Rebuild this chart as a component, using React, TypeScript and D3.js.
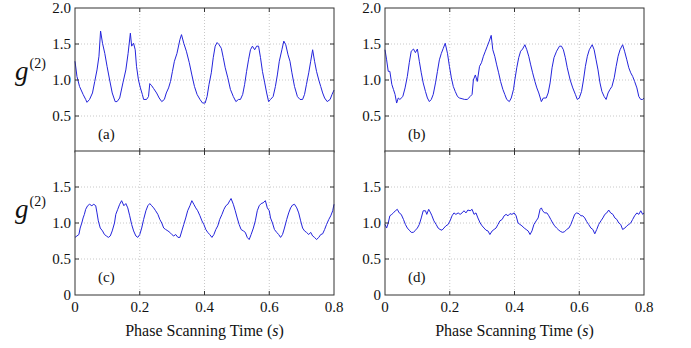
import { useRef, useEffect } from "react";
import * as d3 from "d3";

type Pt = [number, number];

// g2 traces: [time (s), g(2)]
const traceA: Pt[] = [
  [0, 1.26], [0.006, 1.05], [0.014, 0.91], [0.025, 0.8], [0.033, 0.73], [0.037, 0.69], [0.045, 0.73], [0.054, 0.82],
  [0.061, 0.98], [0.068, 1.14], [0.074, 1.33], [0.079, 1.68], [0.085, 1.51], [0.092, 1.37], [0.099, 1.19], [0.107, 1.0],
  [0.115, 0.82], [0.124, 0.7], [0.13, 0.7], [0.138, 0.75], [0.148, 0.96], [0.157, 1.14], [0.164, 1.37], [0.171, 1.65],
  [0.175, 1.47], [0.181, 1.51], [0.186, 1.42], [0.19, 1.19], [0.196, 1.0], [0.202, 0.89], [0.208, 0.8], [0.212, 0.73],
  [0.221, 0.73], [0.227, 0.77], [0.231, 0.95], [0.237, 0.92], [0.243, 0.88], [0.252, 0.82], [0.26, 0.75], [0.268, 0.7],
  [0.276, 0.73], [0.282, 0.82], [0.289, 0.89], [0.295, 0.98], [0.301, 1.12], [0.307, 1.26], [0.315, 1.37], [0.324, 1.56],
  [0.329, 1.63], [0.336, 1.51], [0.344, 1.4], [0.353, 1.24], [0.361, 1.07], [0.369, 0.91], [0.377, 0.8], [0.386, 0.73],
  [0.394, 0.68], [0.402, 0.68], [0.408, 0.77], [0.414, 0.94], [0.421, 1.1], [0.427, 1.31], [0.433, 1.47], [0.439, 1.52],
  [0.445, 1.49], [0.452, 1.44], [0.458, 1.31], [0.464, 1.17], [0.472, 1.03], [0.48, 0.87], [0.489, 0.77], [0.497, 0.7],
  [0.505, 0.73], [0.511, 0.73], [0.518, 0.8], [0.524, 0.94], [0.53, 1.12], [0.536, 1.28], [0.542, 1.42], [0.548, 1.47],
  [0.555, 1.42], [0.561, 1.47], [0.567, 1.47], [0.573, 1.31], [0.579, 1.12], [0.586, 0.96], [0.592, 0.82], [0.598, 0.7],
  [0.604, 0.73], [0.612, 0.77], [0.619, 0.91], [0.625, 1.07], [0.631, 1.26], [0.639, 1.42], [0.645, 1.54], [0.651, 1.49],
  [0.658, 1.35], [0.664, 1.26], [0.67, 1.1], [0.678, 0.91], [0.687, 0.77], [0.695, 0.73], [0.703, 0.73], [0.709, 0.8],
  [0.715, 0.94], [0.722, 1.1], [0.728, 1.26], [0.734, 1.42], [0.74, 1.26], [0.746, 1.12], [0.753, 1.0], [0.759, 0.91],
  [0.765, 0.82], [0.771, 0.75], [0.779, 0.7], [0.788, 0.73], [0.794, 0.8], [0.8, 0.86],
];

const traceB: Pt[] = [
  [0, 1.42], [0.005, 1.28], [0.01, 1.12], [0.015, 1.12], [0.021, 0.94], [0.026, 0.87], [0.031, 0.8], [0.036, 0.68],
  [0.041, 0.75], [0.046, 0.73], [0.055, 0.77], [0.062, 0.89], [0.069, 1.05], [0.075, 1.24], [0.081, 1.4], [0.088, 1.43],
  [0.094, 1.38], [0.1, 1.43], [0.106, 1.26], [0.112, 1.1], [0.118, 0.96], [0.125, 0.84], [0.131, 0.75], [0.137, 0.7],
  [0.143, 0.73], [0.149, 0.8], [0.156, 0.96], [0.162, 1.12], [0.168, 1.28], [0.174, 1.37], [0.18, 1.44], [0.186, 1.51],
  [0.193, 1.37], [0.199, 1.19], [0.205, 1.03], [0.211, 0.91], [0.217, 0.84], [0.224, 0.77], [0.23, 0.75], [0.238, 0.74],
  [0.246, 0.73], [0.254, 0.73], [0.263, 0.77], [0.269, 0.8], [0.273, 1.0], [0.279, 1.07], [0.285, 0.98], [0.292, 1.19],
  [0.298, 1.24], [0.304, 1.33], [0.31, 1.4], [0.316, 1.47], [0.322, 1.54], [0.328, 1.62], [0.333, 1.42], [0.339, 1.33],
  [0.345, 1.21], [0.351, 1.1], [0.357, 0.98], [0.364, 0.87], [0.37, 0.8], [0.376, 0.73], [0.384, 0.7], [0.39, 0.75],
  [0.397, 0.87], [0.401, 1.0], [0.407, 1.17], [0.413, 1.31], [0.419, 1.4], [0.425, 1.43], [0.432, 1.49], [0.438, 1.42],
  [0.444, 1.33], [0.45, 1.21], [0.456, 1.1], [0.463, 0.98], [0.469, 0.89], [0.475, 0.82], [0.483, 0.7], [0.489, 0.75],
  [0.498, 0.75], [0.504, 0.82], [0.51, 0.96], [0.516, 1.17], [0.522, 1.31], [0.53, 1.4], [0.539, 1.47], [0.545, 1.47],
  [0.551, 1.42], [0.557, 1.31], [0.563, 1.17], [0.572, 1.0], [0.58, 0.89], [0.588, 0.8], [0.594, 0.73], [0.6, 0.75],
  [0.607, 0.84], [0.613, 1.0], [0.619, 1.19], [0.625, 1.33], [0.631, 1.42], [0.64, 1.49], [0.646, 1.42], [0.652, 1.28],
  [0.658, 1.14], [0.664, 0.96], [0.67, 0.84], [0.677, 0.77], [0.683, 0.73], [0.689, 0.82], [0.695, 0.87], [0.701, 0.91],
  [0.708, 1.03], [0.714, 1.19], [0.72, 1.33], [0.726, 1.42], [0.734, 1.49], [0.74, 1.4], [0.747, 1.28], [0.753, 1.17],
  [0.759, 1.1], [0.765, 1.05], [0.771, 0.98], [0.778, 0.89], [0.784, 0.77], [0.79, 0.73], [0.796, 0.73], [0.8, 0.75],
];

const traceC: Pt[] = [
  [0, 0.8], [0.006, 0.82], [0.012, 0.84], [0.016, 0.93], [0.021, 1.0], [0.025, 1.07], [0.029, 1.12], [0.033, 1.19],
  [0.039, 1.24], [0.045, 1.26], [0.052, 1.24], [0.058, 1.26], [0.064, 1.24], [0.068, 1.14], [0.072, 1.03], [0.078, 0.93],
  [0.085, 0.89], [0.091, 0.84], [0.097, 0.82], [0.103, 0.8], [0.109, 0.82], [0.115, 0.89], [0.122, 1.0], [0.126, 1.12],
  [0.132, 1.19], [0.138, 1.26], [0.144, 1.31], [0.151, 1.24], [0.157, 1.27], [0.163, 1.21], [0.169, 1.1], [0.175, 0.98],
  [0.181, 0.89], [0.188, 0.82], [0.194, 0.8], [0.2, 0.84], [0.206, 0.93], [0.212, 1.05], [0.219, 1.17], [0.225, 1.24],
  [0.231, 1.27], [0.237, 1.24], [0.243, 1.21], [0.249, 1.17], [0.256, 1.12], [0.262, 1.05], [0.268, 1.0], [0.274, 0.93],
  [0.28, 0.91], [0.287, 0.89], [0.293, 0.87], [0.299, 0.84], [0.305, 0.82], [0.311, 0.84], [0.318, 0.8], [0.324, 0.8],
  [0.33, 0.89], [0.336, 0.98], [0.342, 1.07], [0.348, 1.17], [0.355, 1.24], [0.361, 1.31], [0.367, 1.26], [0.373, 1.21],
  [0.379, 1.17], [0.386, 1.1], [0.392, 1.03], [0.398, 0.98], [0.404, 0.91], [0.41, 0.87], [0.416, 0.84], [0.423, 0.8],
  [0.429, 0.84], [0.435, 0.91], [0.441, 0.96], [0.447, 1.05], [0.454, 1.12], [0.46, 1.19], [0.466, 1.24], [0.472, 1.26],
  [0.478, 1.31], [0.482, 1.34], [0.489, 1.26], [0.495, 1.17], [0.501, 1.07], [0.507, 0.98], [0.513, 0.91], [0.52, 0.89],
  [0.526, 0.87], [0.532, 0.8], [0.538, 0.77], [0.544, 0.84], [0.551, 0.93], [0.557, 1.03], [0.563, 1.17], [0.569, 1.24],
  [0.575, 1.27], [0.581, 1.28], [0.588, 1.31], [0.594, 1.21], [0.6, 1.17], [0.604, 1.07], [0.61, 1.0], [0.616, 0.91],
  [0.623, 0.87], [0.629, 0.84], [0.635, 0.8], [0.641, 0.84], [0.647, 0.93], [0.654, 1.05], [0.66, 1.14], [0.666, 1.21],
  [0.672, 1.25], [0.678, 1.26], [0.685, 1.21], [0.691, 1.14], [0.697, 1.03], [0.703, 0.93], [0.709, 0.89], [0.715, 0.87],
  [0.722, 0.84], [0.728, 0.87], [0.734, 0.82], [0.74, 0.8], [0.746, 0.77], [0.753, 0.8], [0.759, 0.84], [0.765, 0.85],
  [0.771, 0.91], [0.777, 0.98], [0.784, 1.05], [0.79, 1.1], [0.796, 1.17], [0.8, 1.26],
];

const traceD: Pt[] = [
  [0, 0.98], [0.005, 0.93], [0.01, 1.0], [0.015, 1.1], [0.021, 1.12], [0.026, 1.14], [0.032, 1.17], [0.038, 1.19],
  [0.044, 1.14], [0.05, 1.12], [0.057, 1.05], [0.063, 0.98], [0.069, 0.93], [0.075, 0.9], [0.081, 0.87], [0.088, 0.87],
  [0.094, 0.9], [0.1, 0.93], [0.106, 0.98], [0.112, 1.07], [0.118, 1.17], [0.125, 1.17], [0.129, 1.12], [0.135, 1.19],
  [0.141, 1.14], [0.145, 1.1], [0.151, 1.03], [0.158, 0.98], [0.164, 0.93], [0.17, 0.91], [0.176, 0.9], [0.182, 0.93],
  [0.188, 0.96], [0.195, 0.98], [0.201, 1.03], [0.207, 1.1], [0.213, 1.14], [0.219, 1.12], [0.226, 1.14], [0.232, 1.12],
  [0.238, 1.14], [0.244, 1.17], [0.25, 1.14], [0.256, 1.18], [0.263, 1.17], [0.269, 1.19], [0.275, 1.12], [0.281, 1.14],
  [0.287, 1.07], [0.294, 1.0], [0.3, 0.96], [0.306, 0.93], [0.312, 0.9], [0.318, 0.89], [0.324, 0.84], [0.331, 0.89],
  [0.337, 0.91], [0.343, 0.93], [0.349, 0.98], [0.355, 1.03], [0.362, 1.05], [0.368, 1.1], [0.374, 1.12], [0.38, 1.1],
  [0.386, 1.13], [0.392, 1.12], [0.399, 1.14], [0.405, 1.1], [0.411, 1.0], [0.417, 0.98], [0.423, 0.96], [0.43, 0.93],
  [0.436, 0.91], [0.442, 0.89], [0.448, 0.84], [0.454, 0.89], [0.46, 0.98], [0.467, 1.03], [0.473, 1.07], [0.479, 1.19],
  [0.483, 1.21], [0.487, 1.17], [0.493, 1.14], [0.5, 1.14], [0.506, 1.1], [0.512, 1.05], [0.518, 1.0], [0.524, 0.96],
  [0.53, 0.93], [0.537, 0.9], [0.543, 0.88], [0.549, 0.87], [0.555, 0.88], [0.561, 0.91], [0.568, 0.93], [0.574, 0.98],
  [0.58, 1.05], [0.586, 1.12], [0.592, 1.14], [0.599, 1.13], [0.605, 1.1], [0.611, 1.1], [0.617, 1.07], [0.623, 1.02],
  [0.629, 0.98], [0.636, 0.93], [0.642, 0.91], [0.648, 0.85], [0.654, 0.91], [0.66, 0.98], [0.667, 1.03], [0.673, 1.07],
  [0.679, 1.12], [0.685, 1.14], [0.691, 1.18], [0.697, 1.14], [0.704, 1.12], [0.71, 1.07], [0.716, 1.05], [0.722, 1.0],
  [0.728, 0.98], [0.734, 0.91], [0.741, 0.93], [0.747, 0.96], [0.753, 0.98], [0.759, 1.0], [0.765, 1.05], [0.771, 1.1],
  [0.778, 1.14], [0.784, 1.12], [0.79, 1.17], [0.796, 1.12], [0.8, 1.14],
];

const xTicks = [0, 0.2, 0.4, 0.6, 0.8];
const yTicks = [0, 0.5, 1.0, 1.5, 2.0];
const topYLabels = [0.5, 1.0, 1.5, 2.0];
const bottomYLabels = [0, 0.5, 1.0, 1.5];
const panelTags = ["(a)", "(b)", "(c)", "(d)"];

const FONT = "Liberation Serif";

const App = () => {
  const svgRef = useRef<SVGSVGElement>(null);

  useEffect(() => {
    const svg = d3.select(svgRef.current);
    svg.selectAll("*").remove();

    const cols = [75, 385];
    const panelW = 259;
    const rows = [
      { top: 8, bottom: 152 },
      { top: 151, bottom: 295 },
    ];
    const panels = [
      { data: traceA, col: 0, row: 0 },
      { data: traceB, col: 1, row: 0 },
      { data: traceC, col: 0, row: 1 },
      { data: traceD, col: 1, row: 1 },
    ];
    const fmt = (d: number) => (d === 0 ? "0" : d3.format(".1f")(d));

    panels.forEach((p, i) => {
      const left = cols[p.col];
      const { top, bottom } = rows[p.row];
      const x = d3.scaleLinear().domain([0, 0.8]).range([left, left + panelW]);
      const y = d3.scaleLinear().domain([0, 2]).range([bottom, top]);
      const g = svg.append("g").style("font-family", FONT);

      g.append("rect")
        .attr("x", left)
        .attr("y", top)
        .attr("width", panelW)
        .attr("height", bottom - top)
        .attr("fill", "#fff");

      // dotted grid
      g.selectAll(".vg")
        .data(xTicks.slice(1, -1))
        .join("line")
        .attr("x1", (d) => x(d))
        .attr("x2", (d) => x(d))
        .attr("y1", top)
        .attr("y2", bottom)
        .attr("stroke", "#c8c8c8")
        .attr("stroke-dasharray", "1,2");
      g.selectAll(".hg")
        .data(yTicks.slice(1, -1))
        .join("line")
        .attr("x1", left)
        .attr("x2", left + panelW)
        .attr("y1", (d) => y(d))
        .attr("y2", (d) => y(d))
        .attr("stroke", "#c8c8c8")
        .attr("stroke-dasharray", "1,2");

      const line = d3
        .line<Pt>()
        .x((d) => x(d[0]))
        .y((d) => y(d[1]));
      g.append("path")
        .datum(p.data)
        .attr("d", line)
        .attr("fill", "none")
        .attr("stroke", "#2424dc")
        .attr("stroke-width", 1)
        .attr("stroke-linejoin", "round");

      // inward ticks on all sides
      const tk = 4;
      xTicks.slice(1, -1).forEach((d) => {
        g.append("line").attr("x1", x(d)).attr("x2", x(d)).attr("y1", bottom).attr("y2", bottom - tk).attr("stroke", "#333");
        g.append("line").attr("x1", x(d)).attr("x2", x(d)).attr("y1", top).attr("y2", top + tk).attr("stroke", "#333");
      });
      yTicks.slice(1, -1).forEach((d) => {
        g.append("line").attr("x1", left).attr("x2", left + tk).attr("y1", y(d)).attr("y2", y(d)).attr("stroke", "#333");
        g.append("line")
          .attr("x1", left + panelW)
          .attr("x2", left + panelW - tk)
          .attr("y1", y(d))
          .attr("y2", y(d))
          .attr("stroke", "#333");
      });

      g.append("rect")
        .attr("x", left)
        .attr("y", top)
        .attr("width", panelW)
        .attr("height", bottom - top)
        .attr("fill", "none")
        .attr("stroke", "#333")
        .attr("stroke-width", 1);

      // y tick labels
      g.selectAll(".yl")
        .data(p.row === 0 ? topYLabels : bottomYLabels)
        .join("text")
        .attr("x", left - 4)
        .attr("y", (d) => y(d))
        .attr("dy", "0.35em")
        .attr("text-anchor", "end")
        .style("font-size", "15px")
        .attr("fill", "#111")
        .text(fmt);

      // x tick labels on the lower row only
      if (p.row === 1) {
        g.selectAll(".xl")
          .data(xTicks)
          .join("text")
          .attr("x", (d) => x(d))
          .attr("y", bottom + 16.5)
          .attr("text-anchor", "middle")
          .style("font-size", "15px")
          .attr("fill", "#111")
          .text(fmt);

        const xt = g
          .append("text")
          .attr("x", left + panelW / 2)
          .attr("y", bottom + 41)
          .attr("text-anchor", "middle")
          .style("font-size", "16px")
          .attr("fill", "#111");
        xt.append("tspan").text("Phase Scanning Time (");
        xt.append("tspan").style("font-style", "italic").text("s");
        xt.append("tspan").text(")");
      }

      g.append("text")
        .attr("x", left + 23)
        .attr("y", bottom - 13)
        .style("font-size", "15px")
        .attr("fill", "#111")
        .text(panelTags[i]);

      if (p.col === 0) {
        const gl = g
          .append("text")
          .attr("x", 15)
          .attr("y", p.row === 0 ? 80 : 218)
          .attr("fill", "#111");
        gl.append("tspan").style("font-style", "italic").style("font-size", "27px").text("g");
        gl.append("tspan").style("font-size", "14px").attr("dy", -12).attr("dx", 1).text("(2)");
      }
    });
  }, []);

  return (
    <div style={{ position: "absolute", left: 0, top: 0, background: "#fff" }}>
      <svg ref={svgRef} width={691} height={348} style={{ display: "block" }}></svg>
    </div>
  );
};

export default App;
